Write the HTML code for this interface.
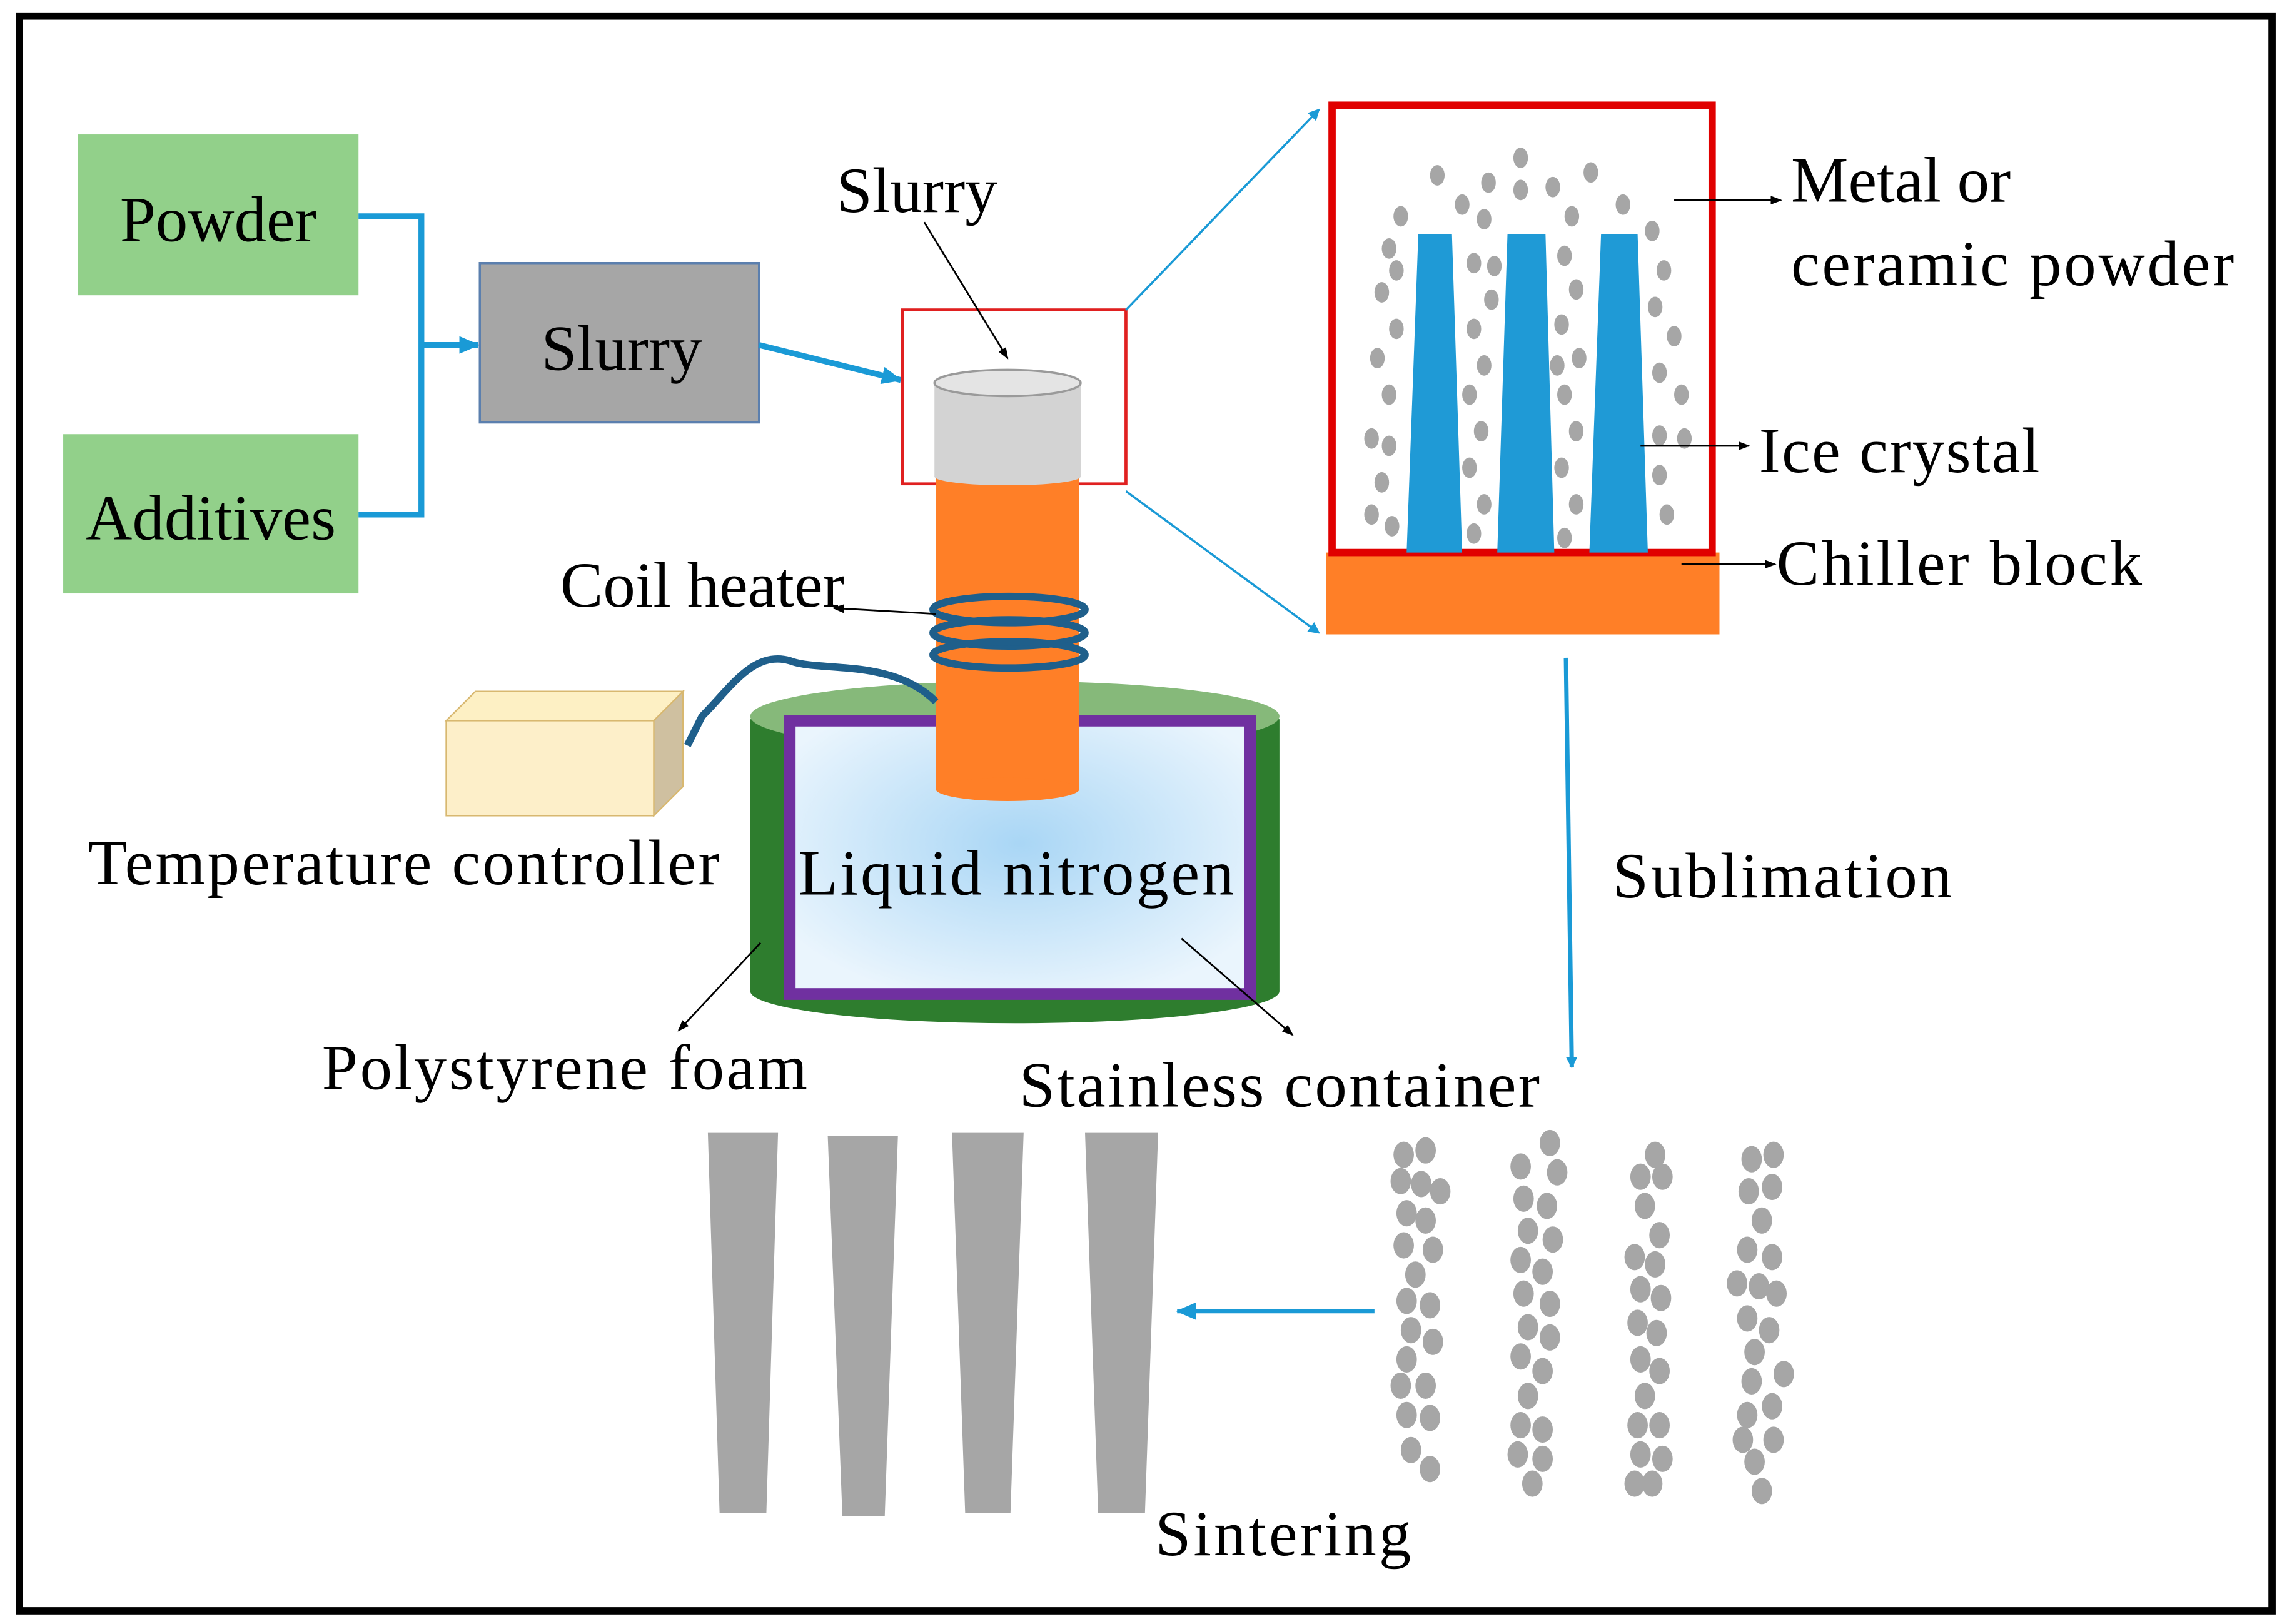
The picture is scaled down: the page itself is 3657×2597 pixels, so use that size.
<!DOCTYPE html>
<html><head><meta charset="utf-8"><style>html,body{margin:0;padding:0;background:#fff}svg{display:block}svg text{font-family:"Liberation Serif",serif;font-size:44px}</style></head><body>
<svg width="3657" height="2597" viewBox="0 0 1564 1111" xmlns="http://www.w3.org/2000/svg">
<defs>
<marker id="ab" markerWidth="8" markerHeight="8" refX="7" refY="4" orient="auto" markerUnits="userSpaceOnUse"><path d="M0,0 L8,4 L0,8 z" fill="#1a9ad6"/></marker>
<marker id="abl" markerWidth="14" markerHeight="12" refX="13" refY="6" orient="auto" markerUnits="userSpaceOnUse"><path d="M0,0 L14,6 L0,12 z" fill="#1a9ad6"/></marker>
<marker id="ak" markerWidth="8" markerHeight="6" refX="7" refY="3" orient="auto" markerUnits="userSpaceOnUse"><path d="M0,0 L8,3 L0,6 z" fill="#000"/></marker>
<radialGradient id="ln" cx="0.5" cy="0.45" r="0.6"><stop offset="0" stop-color="#a9d6f5"/><stop offset="1" stop-color="#eaf5fd"/></radialGradient>
</defs>
<rect x="13" y="11" width="1541" height="1091" fill="#fff" stroke="#000" stroke-width="5"/>
<rect x="53" y="92" width="192" height="110" fill="#92d08a"/>
<text x="149" y="165" text-anchor="middle">Powder</text>
<rect x="43" y="297" width="202" height="109" fill="#92d08a"/>
<text x="144" y="369" text-anchor="middle">Additives</text>
<path d="M245,148 H288 V352 H245" fill="none" stroke="#1a9ad6" stroke-width="4"/>
<line x1="288" y1="236" x2="327" y2="236" stroke="#1a9ad6" stroke-width="4" marker-end="url(#abl)"/>
<rect x="328" y="180" width="191" height="109" fill="#a6a6a6" stroke="#5b7fae" stroke-width="1.5"/>
<text x="425" y="253" text-anchor="middle">Slurry</text>
<line x1="519" y1="236" x2="616" y2="260" stroke="#1a9ad6" stroke-width="4" marker-end="url(#abl)"/>
<rect x="617" y="212" width="153" height="119" fill="none" stroke="#e02020" stroke-width="2"/>
<line x1="770" y1="212" x2="902" y2="75" stroke="#1a9ad6" stroke-width="1.5" marker-end="url(#ab)"/>
<line x1="770" y1="336" x2="902" y2="433" stroke="#1a9ad6" stroke-width="1.5" marker-end="url(#ab)"/>
<path d="M513,492 L513,678 A181,22 0 0 0 875,678 L875,492 z" fill="#2e7d2e"/>
<ellipse cx="694" cy="490" rx="181" ry="24" fill="#86b97a"/>
<rect x="540" y="493" width="315" height="187" fill="url(#ln)" stroke="#7030a0" stroke-width="8"/>
<rect x="640" y="315" width="98" height="225" fill="#ff7f27"/>
<ellipse cx="689" cy="540" rx="49" ry="8" fill="#ff7f27"/>
<rect x="639" y="262" width="100" height="64" fill="#d3d3d3"/>
<ellipse cx="689" cy="326" rx="50" ry="6" fill="#d3d3d3"/>
<ellipse cx="689" cy="262" rx="50" ry="9" fill="#e4e4e4" stroke="#9a9a9a" stroke-width="1.5"/>
<g fill="none" stroke="#1f5f8b" stroke-width="5">
<ellipse cx="690" cy="417" rx="52" ry="9"/>
<ellipse cx="690" cy="433" rx="52" ry="9"/>
<ellipse cx="690" cy="448" rx="52" ry="9"/>
<path d="M640,480 C610,450 560,460 540,452 C515,445 500,470 480,490 L470,510"/>
</g>
<path d="M305,493 L325,473 L467,473 L447,493 z" fill="#fdf0c4" stroke="#d8b870" stroke-width="1"/>
<path d="M447,493 L467,473 L467,538 L447,558 z" fill="#cfc0a0" stroke="#d8b870" stroke-width="1"/>
<rect x="305" y="493" width="142" height="65" fill="#fdefc9" stroke="#d8b870" stroke-width="1"/>
<text x="572" y="145">Slurry</text>
<line x1="632" y1="152" x2="689" y2="245" stroke="#000" stroke-width="1.2" marker-end="url(#ak)"/>
<text x="383" y="415">Coil heater</text>
<line x1="640" y1="420" x2="570" y2="416" stroke="#000" stroke-width="1.2" marker-end="url(#ak)"/>
<text x="60" y="605" textLength="432">Temperature controller</text>
<text x="546" y="612" textLength="298">Liquid nitrogen</text>
<text x="220" y="745" textLength="332">Polystyrene  foam</text>
<line x1="520" y1="645" x2="464" y2="705" stroke="#000" stroke-width="1.2" marker-end="url(#ak)"/>
<text x="697" y="757" textLength="356">Stainless container</text>
<line x1="808" y1="642" x2="884" y2="708" stroke="#000" stroke-width="1.2" marker-end="url(#ak)"/>
<rect x="907" y="378" width="269" height="56" fill="#ff7f27"/>
<rect x="911" y="72" width="260" height="306" fill="none" stroke="#e00000" stroke-width="5"/>
<g fill="#1f9ad6">
<polygon points="970,160 993,160 1000,378 962,378"/>
<polygon points="1031,160 1057,160 1063,378 1024,378"/>
<polygon points="1095,160 1120,160 1127,378 1087,378"/>
</g>
<g fill="#a6a6a6">
<ellipse cx="983" cy="120" rx="5" ry="7"/><ellipse cx="1000" cy="140" rx="5" ry="7"/><ellipse cx="1018" cy="125" rx="5" ry="7"/><ellipse cx="1040" cy="108" rx="5" ry="7"/><ellipse cx="1062" cy="128" rx="5" ry="7"/><ellipse cx="1088" cy="118" rx="5" ry="7"/><ellipse cx="1110" cy="140" rx="5" ry="7"/><ellipse cx="1040" cy="130" rx="5" ry="7"/><ellipse cx="1075" cy="148" rx="5" ry="7"/><ellipse cx="1015" cy="150" rx="5" ry="7"/><ellipse cx="958" cy="148" rx="5" ry="7"/>
<ellipse cx="950" cy="170" rx="5" ry="7"/><ellipse cx="945" cy="200" rx="5" ry="7"/><ellipse cx="955" cy="225" rx="5" ry="7"/><ellipse cx="942" cy="245" rx="5" ry="7"/><ellipse cx="950" cy="270" rx="5" ry="7"/><ellipse cx="938" cy="300" rx="5" ry="7"/><ellipse cx="950" cy="305" rx="5" ry="7"/><ellipse cx="945" cy="330" rx="5" ry="7"/><ellipse cx="938" cy="352" rx="5" ry="7"/><ellipse cx="952" cy="360" rx="5" ry="7"/><ellipse cx="955" cy="185" rx="5" ry="7"/>
<ellipse cx="1008" cy="180" rx="5" ry="7"/><ellipse cx="1020" cy="205" rx="5" ry="7"/><ellipse cx="1008" cy="225" rx="5" ry="7"/><ellipse cx="1015" cy="250" rx="5" ry="7"/><ellipse cx="1005" cy="270" rx="5" ry="7"/><ellipse cx="1013" cy="295" rx="5" ry="7"/><ellipse cx="1005" cy="320" rx="5" ry="7"/><ellipse cx="1015" cy="345" rx="5" ry="7"/><ellipse cx="1008" cy="365" rx="5" ry="7"/><ellipse cx="1022" cy="182" rx="5" ry="7"/>
<ellipse cx="1070" cy="175" rx="5" ry="7"/><ellipse cx="1078" cy="198" rx="5" ry="7"/><ellipse cx="1068" cy="222" rx="5" ry="7"/><ellipse cx="1080" cy="245" rx="5" ry="7"/><ellipse cx="1070" cy="270" rx="5" ry="7"/><ellipse cx="1078" cy="295" rx="5" ry="7"/><ellipse cx="1068" cy="320" rx="5" ry="7"/><ellipse cx="1078" cy="345" rx="5" ry="7"/><ellipse cx="1070" cy="368" rx="5" ry="7"/><ellipse cx="1065" cy="250" rx="5" ry="7"/>
<ellipse cx="1130" cy="158" rx="5" ry="7"/><ellipse cx="1138" cy="185" rx="5" ry="7"/><ellipse cx="1132" cy="210" rx="5" ry="7"/><ellipse cx="1145" cy="230" rx="5" ry="7"/><ellipse cx="1135" cy="255" rx="5" ry="7"/><ellipse cx="1150" cy="270" rx="5" ry="7"/><ellipse cx="1135" cy="298" rx="5" ry="7"/><ellipse cx="1152" cy="300" rx="5" ry="7"/><ellipse cx="1135" cy="325" rx="5" ry="7"/><ellipse cx="1140" cy="352" rx="5" ry="7"/>
</g>
<text x="1225" y="138">Metal or</text>
<text x="1225" y="195" textLength="303">ceramic powder</text>
<line x1="1145" y1="137" x2="1218" y2="137" stroke="#000" stroke-width="1.2" marker-end="url(#ak)"/>
<text x="1203" y="323" textLength="192">Ice crystal</text>
<line x1="1122" y1="305" x2="1196" y2="305" stroke="#000" stroke-width="1.2" marker-end="url(#ak)"/>
<text x="1215" y="400" textLength="250">Chiller block</text>
<line x1="1150" y1="386" x2="1214" y2="386" stroke="#000" stroke-width="1.2" marker-end="url(#ak)"/>
<line x1="1071" y1="450" x2="1075" y2="730" stroke="#1a9ad6" stroke-width="3" marker-end="url(#ab)"/>
<text x="1103" y="614" textLength="232">Sublimation</text>
<g fill="#a6a6a6">
<polygon points="484,775 532,775 524,1035 492,1035"/>
<polygon points="566,777 614,777 605,1037 576,1037"/>
<polygon points="651,775 700,775 691,1035 660,1035"/>
<polygon points="742,775 792,775 783,1035 751,1035"/>
</g>
<line x1="940" y1="897" x2="805" y2="897" stroke="#1a9ad6" stroke-width="3" marker-end="url(#abl)"/>
<text x="790" y="1064" textLength="175">Sintering</text>
<g fill="#a6a6a6">
<ellipse cx="960" cy="790" rx="7" ry="9"/><ellipse cx="975" cy="787" rx="7" ry="9"/><ellipse cx="958" cy="808" rx="7" ry="9"/><ellipse cx="972" cy="810" rx="7" ry="9"/><ellipse cx="985" cy="815" rx="7" ry="9"/><ellipse cx="962" cy="830" rx="7" ry="9"/><ellipse cx="975" cy="835" rx="7" ry="9"/><ellipse cx="960" cy="852" rx="7" ry="9"/><ellipse cx="980" cy="855" rx="7" ry="9"/><ellipse cx="968" cy="872" rx="7" ry="9"/><ellipse cx="962" cy="890" rx="7" ry="9"/><ellipse cx="978" cy="893" rx="7" ry="9"/><ellipse cx="965" cy="910" rx="7" ry="9"/><ellipse cx="980" cy="918" rx="7" ry="9"/><ellipse cx="962" cy="930" rx="7" ry="9"/><ellipse cx="958" cy="948" rx="7" ry="9"/><ellipse cx="975" cy="948" rx="7" ry="9"/><ellipse cx="962" cy="968" rx="7" ry="9"/><ellipse cx="978" cy="970" rx="7" ry="9"/><ellipse cx="965" cy="992" rx="7" ry="9"/><ellipse cx="978" cy="1005" rx="7" ry="9"/>
<ellipse cx="1040" cy="798" rx="7" ry="9"/><ellipse cx="1060" cy="782" rx="7" ry="9"/><ellipse cx="1065" cy="802" rx="7" ry="9"/><ellipse cx="1042" cy="820" rx="7" ry="9"/><ellipse cx="1058" cy="825" rx="7" ry="9"/><ellipse cx="1045" cy="842" rx="7" ry="9"/><ellipse cx="1062" cy="848" rx="7" ry="9"/><ellipse cx="1040" cy="862" rx="7" ry="9"/><ellipse cx="1055" cy="870" rx="7" ry="9"/><ellipse cx="1042" cy="885" rx="7" ry="9"/><ellipse cx="1060" cy="892" rx="7" ry="9"/><ellipse cx="1045" cy="908" rx="7" ry="9"/><ellipse cx="1060" cy="915" rx="7" ry="9"/><ellipse cx="1040" cy="928" rx="7" ry="9"/><ellipse cx="1055" cy="938" rx="7" ry="9"/><ellipse cx="1045" cy="955" rx="7" ry="9"/><ellipse cx="1040" cy="975" rx="7" ry="9"/><ellipse cx="1055" cy="978" rx="7" ry="9"/><ellipse cx="1038" cy="995" rx="7" ry="9"/><ellipse cx="1055" cy="998" rx="7" ry="9"/><ellipse cx="1048" cy="1015" rx="7" ry="9"/>
<ellipse cx="1132" cy="790" rx="7" ry="9"/><ellipse cx="1122" cy="805" rx="7" ry="9"/><ellipse cx="1137" cy="805" rx="7" ry="9"/><ellipse cx="1125" cy="825" rx="7" ry="9"/><ellipse cx="1135" cy="845" rx="7" ry="9"/><ellipse cx="1118" cy="860" rx="7" ry="9"/><ellipse cx="1132" cy="865" rx="7" ry="9"/><ellipse cx="1122" cy="882" rx="7" ry="9"/><ellipse cx="1136" cy="888" rx="7" ry="9"/><ellipse cx="1120" cy="905" rx="7" ry="9"/><ellipse cx="1133" cy="912" rx="7" ry="9"/><ellipse cx="1122" cy="930" rx="7" ry="9"/><ellipse cx="1135" cy="938" rx="7" ry="9"/><ellipse cx="1125" cy="955" rx="7" ry="9"/><ellipse cx="1120" cy="975" rx="7" ry="9"/><ellipse cx="1135" cy="975" rx="7" ry="9"/><ellipse cx="1122" cy="995" rx="7" ry="9"/><ellipse cx="1137" cy="998" rx="7" ry="9"/><ellipse cx="1118" cy="1015" rx="7" ry="9"/><ellipse cx="1130" cy="1015" rx="7" ry="9"/>
<ellipse cx="1198" cy="793" rx="7" ry="9"/><ellipse cx="1213" cy="790" rx="7" ry="9"/><ellipse cx="1196" cy="815" rx="7" ry="9"/><ellipse cx="1212" cy="812" rx="7" ry="9"/><ellipse cx="1205" cy="835" rx="7" ry="9"/><ellipse cx="1195" cy="855" rx="7" ry="9"/><ellipse cx="1212" cy="860" rx="7" ry="9"/><ellipse cx="1188" cy="878" rx="7" ry="9"/><ellipse cx="1203" cy="880" rx="7" ry="9"/><ellipse cx="1215" cy="885" rx="7" ry="9"/><ellipse cx="1195" cy="902" rx="7" ry="9"/><ellipse cx="1210" cy="910" rx="7" ry="9"/><ellipse cx="1200" cy="925" rx="7" ry="9"/><ellipse cx="1220" cy="940" rx="7" ry="9"/><ellipse cx="1198" cy="945" rx="7" ry="9"/><ellipse cx="1212" cy="962" rx="7" ry="9"/><ellipse cx="1195" cy="968" rx="7" ry="9"/><ellipse cx="1213" cy="985" rx="7" ry="9"/><ellipse cx="1192" cy="985" rx="7" ry="9"/><ellipse cx="1200" cy="1000" rx="7" ry="9"/><ellipse cx="1205" cy="1020" rx="7" ry="9"/>
</g>
</svg>
</body></html>
